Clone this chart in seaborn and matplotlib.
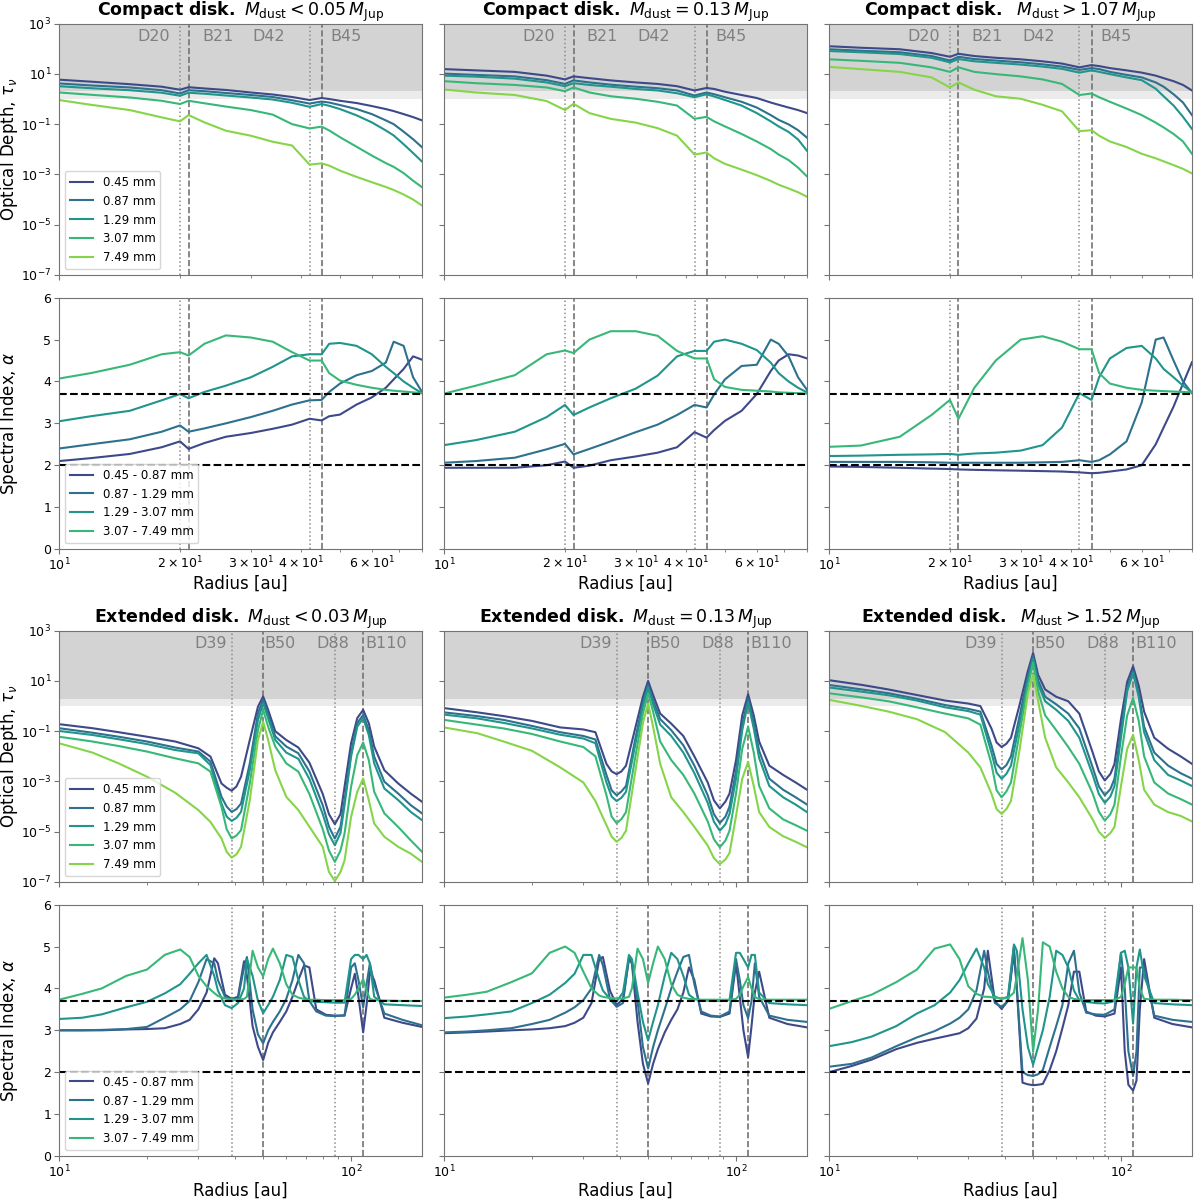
import numpy as np
import pandas as pd
import matplotlib
matplotlib.use("Agg")
import matplotlib.pyplot as plt
import seaborn as sns
from matplotlib.ticker import NullLocator

tau_bands = ["0.45 mm", "0.87 mm", "1.29 mm", "3.07 mm", "7.49 mm"]
alpha_bands = ["0.45 - 0.87 mm", "0.87 - 1.29 mm", "1.29 - 3.07 mm", "3.07 - 7.49 mm"]

# ring structure (au)
compact_gaps, compact_rings = [20, 42], [21, 45]
compact_names = ["D20", "B21", "D42", "B45"]
ext_gaps, ext_rings = [39, 88], [50, 110]
ext_names = ["D39", "B50", "D88", "B110"]

compact_titles = [r"$M_{\rm dust} < 0.05\,M_{\rm Jup}$",
                  r"$M_{\rm dust} = 0.13\,M_{\rm Jup}$",
                  r" $M_{\rm dust} > 1.07\,M_{\rm Jup}$"]
ext_titles = [r"$M_{\rm dust} < 0.03\,M_{\rm Jup}$",
              r"$M_{\rm dust} = 0.13\,M_{\rm Jup}$",
              r" $M_{\rm dust} > 1.52\,M_{\rm Jup}$"]

# ---------------- compact disk ----------------
compact_r = [10, 12, 15, 18, 20, 21, 23, 26, 30, 34, 38, 42, 45, 47, 50, 55, 60, 65, 68, 72, 76, 80]

# log10(tau) per band
log_tau_compact_lo = [
    [0.77, 0.69, 0.59, 0.49, 0.37, 0.47, 0.42, 0.36, 0.26, 0.18, 0.08, -0.04, 0.04, 0.0, -0.07, -0.16, -0.28, -0.40, -0.48, -0.60, -0.72, -0.85],
    [0.62, 0.54, 0.46, 0.35, 0.22, 0.35, 0.31, 0.24, 0.16, 0.08, -0.05, -0.18, -0.10, -0.14, -0.24, -0.40, -0.60, -0.85, -1.00, -1.30, -1.60, -1.92],
    [0.51, 0.43, 0.35, 0.25, 0.13, 0.25, 0.21, 0.14, 0.06, -0.02, -0.15, -0.31, -0.20, -0.27, -0.40, -0.65, -0.93, -1.25, -1.45, -1.80, -2.15, -2.49],
    [0.26, 0.17, 0.06, -0.07, -0.20, -0.07, -0.17, -0.30, -0.44, -0.62, -1.00, -1.17, -1.10, -1.25, -1.52, -1.90, -2.25, -2.55, -2.70, -2.95, -3.25, -3.51],
    [-0.04, -0.23, -0.44, -0.73, -0.89, -0.64, -0.93, -1.26, -1.46, -1.70, -1.85, -2.61, -2.56, -2.65, -2.85, -3.10, -3.31, -3.50, -3.62, -3.80, -4.00, -4.24],
]
log_tau_compact_mid = [
    [1.19, 1.14, 1.08, 0.93, 0.78, 0.90, 0.83, 0.74, 0.66, 0.60, 0.51, 0.34, 0.44, 0.40, 0.29, 0.16, 0.04, -0.14, -0.23, -0.34, -0.44, -0.56],
    [1.01, 0.96, 0.90, 0.75, 0.60, 0.74, 0.66, 0.57, 0.49, 0.43, 0.34, 0.14, 0.26, 0.19, 0.07, -0.11, -0.34, -0.64, -0.83, -1.01, -1.24, -1.54],
    [0.93, 0.89, 0.81, 0.66, 0.51, 0.63, 0.56, 0.49, 0.40, 0.34, 0.23, 0.07, 0.19, 0.10, -0.04, -0.26, -0.56, -0.89, -1.09, -1.31, -1.61, -2.06],
    [0.71, 0.63, 0.56, 0.46, 0.31, 0.46, 0.26, 0.11, 0.01, -0.11, -0.26, -0.79, -0.71, -0.89, -1.09, -1.39, -1.69, -1.99, -2.21, -2.43, -2.73, -3.08],
    [0.38, 0.26, 0.16, -0.08, -0.44, -0.19, -0.56, -0.79, -0.94, -1.16, -1.46, -2.21, -2.13, -2.36, -2.58, -2.81, -3.03, -3.26, -3.41, -3.56, -3.71, -3.89],
]
log_tau_compact_hi = [
    [2.10, 2.04, 1.98, 1.83, 1.68, 1.80, 1.71, 1.64, 1.58, 1.50, 1.41, 1.26, 1.35, 1.31, 1.23, 1.14, 1.05, 0.93, 0.83, 0.71, 0.56, 0.34],
    [1.98, 1.92, 1.86, 1.71, 1.53, 1.68, 1.59, 1.53, 1.46, 1.38, 1.29, 1.16, 1.23, 1.19, 1.08, 0.96, 0.86, 0.66, 0.49, 0.19, -0.14, -0.64],
    [1.91, 1.86, 1.79, 1.64, 1.46, 1.59, 1.50, 1.44, 1.37, 1.29, 1.20, 1.05, 1.14, 1.08, 0.99, 0.86, 0.75, 0.41, 0.11, -0.26, -0.71, -1.19],
    [1.58, 1.52, 1.44, 1.26, 1.08, 1.26, 1.08, 0.99, 0.90, 0.78, 0.60, 0.16, 0.22, 0.07, -0.11, -0.38, -0.64, -0.94, -1.13, -1.39, -1.69, -2.18],
    [1.28, 1.19, 1.08, 0.86, 0.46, 0.66, 0.37, 0.11, 0.01, -0.23, -0.49, -1.28, -1.24, -1.46, -1.69, -1.91, -2.18, -2.36, -2.48, -2.63, -2.78, -2.96],
]

alpha_compact_lo = [
    [2.10, 2.17, 2.27, 2.43, 2.57, 2.39, 2.53, 2.68, 2.77, 2.87, 2.97, 3.11, 3.07, 3.17, 3.21, 3.45, 3.62, 3.85, 4.05, 4.30, 4.60, 4.52],
    [2.40, 2.50, 2.62, 2.80, 2.95, 2.80, 2.88, 3.00, 3.15, 3.30, 3.45, 3.55, 3.56, 3.75, 3.95, 4.15, 4.25, 4.45, 4.95, 4.85, 4.10, 3.75],
    [3.05, 3.17, 3.30, 3.55, 3.70, 3.60, 3.75, 3.90, 4.10, 4.35, 4.60, 4.65, 4.65, 4.90, 4.92, 4.85, 4.65, 4.35, 4.20, 4.00, 3.85, 3.72],
    [4.07, 4.20, 4.40, 4.65, 4.70, 4.62, 4.90, 5.10, 5.05, 4.95, 4.70, 4.50, 4.50, 4.20, 4.02, 3.92, 3.85, 3.80, 3.78, 3.76, 3.74, 3.72],
]
alpha_compact_mid = [
    [1.94, 1.94, 1.94, 2.00, 2.09, 1.94, 1.99, 2.12, 2.21, 2.30, 2.43, 2.79, 2.66, 2.84, 3.06, 3.30, 3.70, 4.25, 4.50, 4.65, 4.62, 4.55],
    [2.06, 2.10, 2.18, 2.38, 2.51, 2.26, 2.39, 2.57, 2.79, 2.97, 3.20, 3.44, 3.38, 3.69, 4.05, 4.37, 4.40, 5.00, 4.90, 4.60, 4.10, 3.80],
    [2.48, 2.60, 2.80, 3.15, 3.44, 3.20, 3.38, 3.60, 3.83, 4.14, 4.60, 4.73, 4.73, 4.95, 5.00, 4.90, 4.75, 4.45, 4.20, 4.00, 3.85, 3.74],
    [3.71, 3.90, 4.15, 4.65, 4.74, 4.68, 5.00, 5.20, 5.20, 5.09, 4.73, 4.55, 4.55, 4.05, 3.87, 3.80, 3.78, 3.76, 3.74, 3.73, 3.72, 3.71],
]
alpha_compact_hi = [
    [1.97, 1.96, 1.94, 1.92, 1.91, 1.90, 1.89, 1.88, 1.87, 1.86, 1.85, 1.83, 1.81, 1.82, 1.85, 1.90, 2.00, 2.50, 2.90, 3.40, 3.95, 4.46],
    [2.08, 2.08, 2.08, 2.07, 2.06, 2.06, 2.06, 2.06, 2.06, 2.07, 2.08, 2.12, 2.08, 2.12, 2.26, 2.57, 3.50, 5.00, 5.05, 4.50, 4.00, 3.72],
    [2.22, 2.23, 2.25, 2.26, 2.27, 2.25, 2.28, 2.30, 2.35, 2.48, 2.90, 3.72, 3.56, 4.10, 4.55, 4.80, 4.85, 4.55, 4.30, 4.10, 3.90, 3.74],
    [2.44, 2.47, 2.68, 3.20, 3.56, 3.11, 3.85, 4.50, 5.00, 5.08, 4.95, 4.77, 4.77, 4.20, 3.95, 3.85, 3.80, 3.78, 3.77, 3.76, 3.75, 3.74],
]

# ---------------- extended disk ----------------
ext_r_tau = [10, 13, 16, 20, 25, 30, 33, 36, 37.5, 39, 40.5, 42, 45, 48, 50, 52, 55, 60, 66, 72,
             80, 84, 88, 92, 95, 100, 105, 110, 115, 120, 130, 145, 160, 175]

log_tau_ext_lo = [
    [-0.72, -0.88, -1.04, -1.22, -1.41, -1.68, -2.01, -3.08, -3.25, -3.37, -3.2, -2.81, -1.35, -0.02, 0.38, -0.15, -1.0, -1.35, -1.65, -2.25, -3.5, -4.3, -4.70, -4.3, -3.21, -1.48, -0.48, -0.15, -0.68, -1.61, -2.55, -3.08, -3.48, -3.81],
    [-0.88, -1.06, -1.22, -1.41, -1.65, -1.81, -2.21, -3.61, -4.0, -4.21, -4.1, -3.88, -2.28, -0.28, 0.25, -0.35, -1.2, -1.61, -1.88, -2.6, -3.95, -4.8, -5.27, -4.8, -3.74, -1.88, -0.68, -0.35, -0.95, -2.01, -3.01, -3.48, -3.94, -4.27],
    [-0.99, -1.15, -1.32, -1.51, -1.75, -1.88, -2.35, -3.88, -4.4, -4.57, -4.45, -4.21, -2.55, -0.55, 0.11, -0.48, -1.35, -1.85, -2.1, -2.9, -4.3, -5.1, -5.54, -5.05, -3.94, -2.01, -0.82, -0.48, -1.15, -2.28, -3.28, -3.74, -4.21, -4.54],
    [-1.22, -1.41, -1.59, -1.81, -2.08, -2.28, -2.61, -4.01, -4.9, -5.27, -5.15, -4.94, -3.08, -0.95, -0.15, -0.82, -1.61, -2.28, -2.61, -3.5, -4.9, -5.75, -6.20, -5.75, -5.07, -3.21, -1.95, -1.45, -2.15, -3.41, -4.27, -4.81, -5.34, -5.80],
    [-1.48, -1.85, -2.28, -2.81, -3.45, -4.14, -4.61, -5.27, -5.8, -6.03, -5.9, -5.60, -3.74, -1.35, -0.62, -1.35, -2.55, -3.61, -4.14, -4.8, -5.6, -6.6, -6.96, -6.6, -6.14, -4.41, -3.41, -2.88, -3.74, -4.67, -5.20, -5.60, -5.87, -6.20],
]
log_tau_ext_mid = [
    [-0.08, -0.25, -0.40, -0.59, -0.85, -0.93, -1.04, -2.30, -2.6, -2.71, -2.6, -2.37, -0.96, 0.37, 1.0, 0.44, -0.30, -0.7, -1.19, -2.0, -3.04, -3.75, -4.07, -3.8, -3.48, -2.15, -0.37, 0.47, -0.37, -1.41, -2.37, -2.74, -3.04, -3.33],
    [-0.25, -0.40, -0.55, -0.79, -1.04, -1.19, -1.33, -2.74, -3.35, -3.55, -3.4, -3.18, -1.41, 0.14, 0.84, 0.22, -0.52, -0.96, -1.56, -2.37, -3.55, -4.3, -4.66, -4.4, -4.0, -2.59, -0.74, 0.29, -0.67, -1.78, -2.89, -3.33, -3.63, -3.92],
    [-0.34, -0.49, -0.67, -0.89, -1.14, -1.29, -1.48, -3.04, -3.6, -3.78, -3.65, -3.41, -1.63, 0.0, 0.74, 0.07, -0.74, -1.19, -1.85, -2.67, -3.85, -4.6, -4.96, -4.7, -4.29, -2.89, -0.96, 0.14, -0.89, -2.07, -3.18, -3.63, -3.92, -4.22],
    [-0.55, -0.74, -0.89, -1.11, -1.41, -1.63, -2.0, -3.55, -4.4, -4.66, -4.5, -4.22, -2.15, -0.30, 0.51, -0.22, -1.41, -2.15, -2.74, -3.48, -4.59, -5.3, -5.62, -5.35, -4.96, -3.48, -1.70, -0.82, -1.85, -3.18, -4.07, -4.51, -4.74, -4.96],
    [-0.85, -1.08, -1.41, -1.78, -2.44, -3.04, -3.78, -4.74, -5.2, -5.40, -5.25, -4.96, -2.74, -0.67, 0.10, -0.82, -2.30, -3.63, -4.22, -4.81, -5.55, -6.05, -6.29, -6.1, -5.85, -4.37, -2.89, -2.22, -3.18, -4.22, -4.81, -5.18, -5.40, -5.62],
]
log_tau_ext_hi = [
    [1.03, 0.84, 0.66, 0.44, 0.22, 0.10, 0.0, -0.89, -1.45, -1.63, -1.5, -1.26, 0.07, 1.40, 2.11, 1.25, 0.66, 0.37, 0.19, -0.30, -1.85, -2.6, -2.96, -2.7, -2.30, -0.52, 0.96, 1.58, 0.81, -0.22, -1.26, -1.70, -2.0, -2.30],
    [0.84, 0.66, 0.51, 0.29, 0.04, -0.11, -0.22, -1.56, -2.3, -2.52, -2.35, -2.0, -0.37, 1.18, 1.99, 1.03, 0.37, 0.07, -0.30, -0.89, -2.44, -3.2, -3.55, -3.3, -2.89, -0.96, 0.74, 1.40, 0.51, -0.82, -1.85, -2.37, -2.67, -2.89],
    [0.74, 0.57, 0.43, 0.22, -0.05, -0.20, -0.34, -1.85, -2.65, -2.89, -2.7, -2.37, -0.67, 1.03, 1.88, 0.88, 0.19, -0.15, -0.59, -1.26, -2.74, -3.5, -3.85, -3.6, -3.18, -1.26, 0.59, 1.33, 0.37, -1.04, -2.15, -2.74, -2.96, -3.18],
    [0.51, 0.34, 0.19, -0.05, -0.30, -0.49, -0.74, -2.30, -3.35, -3.63, -3.4, -3.04, -1.04, 0.81, 1.73, 0.59, -0.37, -0.96, -1.63, -2.30, -3.48, -4.2, -4.56, -4.3, -3.92, -2.0, -0.37, 0.32, -0.59, -2.0, -3.04, -3.48, -3.70, -3.92],
    [0.25, 0.0, -0.22, -0.52, -1.04, -1.85, -2.44, -3.48, -4.1, -4.29, -4.1, -3.78, -1.70, 0.51, 1.25, 0.22, -1.26, -2.44, -3.04, -3.63, -4.51, -5.0, -5.25, -5.05, -4.81, -3.18, -1.70, -1.14, -2.15, -3.33, -3.92, -4.22, -4.37, -4.59],
]

ext_r_alpha = [10, 12, 14, 17, 20, 23, 26, 28, 30, 32, 34, 35, 37, 39, 41, 43, 44, 46, 48, 50, 52,
               54, 57, 60, 63, 66, 69, 72, 76, 82, 88, 95, 100, 103, 106, 110, 113, 116, 120, 130, 150, 175]

alpha_ext_lo = [
    [3.0, 3.0, 3.0, 3.02, 3.03, 3.05, 3.15, 3.25, 3.5, 3.9, 4.72, 4.6, 3.85, 3.75, 3.8, 4.65, 4.3, 3.1, 2.6, 2.29, 2.7, 2.95, 3.2, 3.45, 3.8, 4.2, 4.55, 4.5, 3.5, 3.37, 3.35, 3.35, 4.0, 4.35, 3.8, 2.95, 3.6, 4.4, 4.2, 3.3, 3.18, 3.08],
    [3.0, 3.0, 3.01, 3.03, 3.08, 3.3, 3.5, 3.7, 4.15, 4.7, 4.6, 4.2, 3.8, 3.7, 3.75, 4.5, 4.75, 3.5, 2.9, 2.69, 3.0, 3.2, 3.45, 3.75, 4.2, 4.8, 4.6, 3.7, 3.45, 3.35, 3.34, 3.36, 4.5, 4.6, 4.2, 3.55, 4.1, 4.6, 4.1, 3.4, 3.25, 3.12],
    [3.27, 3.3, 3.38, 3.55, 3.68, 3.88, 4.1, 4.35, 4.6, 4.8, 4.3, 3.95, 3.6, 3.53, 3.65, 4.0, 4.7, 4.3, 3.7, 3.41, 3.6, 3.8, 4.2, 4.8, 4.75, 4.2, 3.8, 3.7, 3.68, 3.67, 3.66, 3.66, 4.7, 4.8, 4.8, 4.7, 4.8, 4.6, 3.8, 3.62, 3.6, 3.58],
    [3.73, 3.87, 4.0, 4.3, 4.45, 4.8, 4.93, 4.75, 4.3, 4.05, 3.89, 3.82, 3.76, 3.74, 3.73, 3.75, 3.8, 4.9, 4.5, 4.29, 4.7, 4.95, 4.6, 4.1, 3.85, 3.78, 3.75, 3.73, 3.73, 3.72, 3.72, 3.72, 3.75, 3.85, 4.0, 4.22, 3.95, 3.75, 3.72, 3.71, 3.7, 3.7],
]
alpha_ext_mid = [
    [2.93, 2.95, 2.97, 3.0, 3.02, 3.05, 3.1, 3.18, 3.3, 3.65, 4.7, 4.75, 3.95, 3.6, 3.75, 4.7, 4.6, 3.2, 2.2, 1.73, 2.2, 2.55, 2.95, 3.25, 3.5, 3.9, 4.5, 4.2, 3.4, 3.33, 3.32, 3.4, 4.6, 3.8, 3.0, 2.36, 3.1, 3.9, 4.4, 3.3, 3.15, 3.07],
    [2.95, 2.97, 3.0, 3.05, 3.15, 3.25, 3.42, 3.55, 3.72, 4.0, 4.8, 4.55, 3.75, 3.56, 3.65, 4.75, 4.6, 3.7, 2.6, 2.09, 2.6, 3.0, 3.5, 4.0, 4.4, 4.75, 4.8, 4.1, 3.45, 3.35, 3.33, 3.45, 4.7, 4.2, 3.6, 3.29, 3.7, 4.6, 3.8, 3.35, 3.25, 3.2],
    [3.29, 3.33, 3.38, 3.45, 3.65, 3.85, 4.13, 4.35, 4.8, 4.8, 4.2, 3.95, 3.75, 3.69, 3.9, 4.8, 4.7, 3.9, 3.2, 2.76, 3.2, 3.6, 4.3, 4.85, 4.7, 4.3, 3.85, 3.75, 3.72, 3.7, 3.7, 3.72, 4.85, 4.85, 4.7, 4.5, 4.8, 4.8, 3.9, 3.65, 3.62, 3.6],
    [3.78, 3.85, 3.92, 4.15, 4.36, 4.85, 5.0, 4.85, 4.4, 4.0, 3.83, 3.8, 3.77, 3.76, 3.76, 3.8, 4.0, 4.95, 4.7, 4.13, 4.6, 5.0, 4.7, 4.1, 3.85, 3.78, 3.75, 3.74, 3.73, 3.73, 3.73, 3.73, 3.75, 3.85, 4.05, 4.27, 4.0, 3.8, 3.74, 3.73, 3.73, 3.73],
]
alpha_ext_hi = [
    [2.0, 2.15, 2.3, 2.55, 2.7, 2.8, 2.88, 2.93, 3.05, 3.28, 4.0, 4.9, 3.7, 3.51, 3.7, 4.85, 4.0, 1.75, 1.71, 1.69, 1.7, 1.72, 2.05, 2.5, 3.05, 3.6, 4.4, 4.4, 3.45, 3.35, 3.33, 3.4, 4.5, 2.5, 1.7, 1.56, 1.8, 3.5, 4.7, 3.3, 3.15, 3.07],
    [2.13, 2.2, 2.35, 2.62, 2.83, 2.98, 3.16, 3.3, 3.5, 3.95, 4.9, 4.4, 3.65, 3.56, 3.7, 5.0, 4.0, 2.0, 1.93, 1.91, 1.95, 2.05, 2.6, 3.1, 3.6, 4.6, 4.9, 3.9, 3.42, 3.38, 3.37, 3.5, 4.85, 4.0, 2.5, 1.91, 2.5, 4.5, 4.5, 3.35, 3.25, 3.2],
    [2.62, 2.72, 2.85, 3.1, 3.4, 3.6, 3.9, 4.2, 4.6, 4.95, 4.5, 4.1, 3.8, 3.75, 3.8, 5.05, 4.9, 3.5, 2.6, 2.18, 2.6, 3.0, 3.8, 4.9, 4.8, 4.5, 3.95, 3.72, 3.68, 3.65, 3.64, 3.7, 4.85, 4.9, 4.5, 3.16, 4.5, 4.93, 4.3, 3.65, 3.62, 3.6],
    [3.51, 3.7, 3.85, 4.15, 4.45, 4.95, 5.05, 4.7, 4.05, 3.87, 3.8, 3.8, 3.78, 3.76, 3.77, 3.9, 4.3, 5.2, 4.2, 2.49, 3.5, 5.1, 5.0, 4.4, 4.0, 3.8, 3.75, 3.73, 3.72, 3.72, 3.72, 3.72, 3.8, 4.1, 4.5, 4.5, 4.5, 4.0, 3.75, 3.73, 3.73, 3.72],
]

# label x-positions for the ring names (au)
compact_label_x = [17.2, 24.8, 33.2, 51.8]
ext_label_x = [33.0, 57.3, 86.8, 132.0]

# ---------------- drawing ----------------
plt.rcParams.update({
    "axes.edgecolor": "0.45",
    "xtick.color": "0.45",
    "ytick.color": "0.45",
    "xtick.labelcolor": "black",
    "ytick.labelcolor": "black",
})

cmap = sns.color_palette("viridis", as_cmap=True)
colors = [cmap(v) for v in np.linspace(0.22, 0.82, 5)]


def long_frame(r, series, bands, log=False):
    rows = []
    for band, vals in zip(bands, series):
        assert len(vals) == len(r), band
        for ri, v in zip(r, vals):
            rows.append((ri, 10.0 ** v if log else v, band))
    return pd.DataFrame(rows, columns=["r", "y", "band"])


def add_rings(ax, gaps, rings):
    for g in gaps:
        ax.axvline(g, color="0.55", ls=":", lw=1.1, zorder=1)
    for b in rings:
        ax.axvline(b, color="0.45", ls="--", lw=1.2, zorder=1)


fig = plt.figure(figsize=(12, 11.99), dpi=100)
col_left = [0.0492, 0.370, 0.6908]
col_w = 0.3025
row_bottom = [0.7707, 0.5421, 0.2644, 0.0359]
row_h = 0.2096

panels = [
    ("Compact", compact_r, compact_r, [log_tau_compact_lo, log_tau_compact_mid, log_tau_compact_hi],
     [alpha_compact_lo, alpha_compact_mid, alpha_compact_hi], compact_gaps, compact_rings,
     compact_names, compact_label_x, compact_titles, (10, 80)),
    ("Extended", ext_r_tau, ext_r_alpha, [log_tau_ext_lo, log_tau_ext_mid, log_tau_ext_hi],
     [alpha_ext_lo, alpha_ext_mid, alpha_ext_hi], ext_gaps, ext_rings,
     ext_names, ext_label_x, ext_titles, (10, 175)),
]

for p, (kind, r_tau, r_alpha, taus, alphas, gaps, rings, names, lab_x, titles, xlim) in enumerate(panels):
    for c in range(3):
        ax_t = fig.add_axes([col_left[c], row_bottom[2 * p], col_w, row_h])
        ax_a = fig.add_axes([col_left[c], row_bottom[2 * p + 1], col_w, row_h])

        # optical depth
        ax_t.set_xscale("log")
        ax_t.set_yscale("log")
        ax_t.axhspan(1, 1e3, color="#ebebeb", lw=0, zorder=0)
        ax_t.axhspan(2, 1e3, color="#d3d3d3", lw=0, zorder=0)
        add_rings(ax_t, gaps, rings)
        df = long_frame(r_tau, taus[c], tau_bands, log=True)
        sns.lineplot(data=df, x="r", y="y", hue="band", hue_order=tau_bands,
                     palette=colors, estimator=None, sort=False, lw=1.5,
                     ax=ax_t, legend=(c == 0))
        for name, x in zip(names, lab_x):
            ax_t.text(x, 10 ** 2.5, name, color="0.5", fontsize=11.5,
                      ha="center", va="center")
        ax_t.set_xlim(*xlim)
        ax_t.set_ylim(1e-7, 1e3)
        ax_t.set_yticks([1e3, 1e1, 1e-1, 1e-3, 1e-5, 1e-7])
        ax_t.yaxis.set_minor_locator(NullLocator())
        ax_t.set_xlabel("")
        ax_t.tick_params(axis="x", which="both", labelbottom=False)
        ax_t.tick_params(labelsize=9, pad=2)
        ax_t.set_title(r"$\bf{" + kind + r"\ disk.}$ " + titles[c], fontsize=12.5, pad=4)

        # spectral index
        ax_a.set_xscale("log")
        add_rings(ax_a, gaps, rings)
        df = long_frame(r_alpha, alphas[c], alpha_bands)
        sns.lineplot(data=df, x="r", y="y", hue="band", hue_order=alpha_bands,
                     palette=colors[:4], estimator=None, sort=False, lw=1.5,
                     ax=ax_a, legend=(c == 0))
        ax_a.axhline(3.7, color="k", ls="--", lw=1.5)
        ax_a.axhline(2.0, color="k", ls="--", lw=1.5)
        ax_a.set_xlim(*xlim)
        ax_a.set_ylim(0, 6)
        ax_a.set_yticks(range(7))
        ax_a.set_xlabel("Radius [au]", fontsize=12, labelpad=1)
        ax_a.tick_params(which="both", labelsize=9, pad=2)

        if c == 0:
            ax_t.set_ylabel(r"Optical Depth, $\tau_\nu$", fontsize=12)
            ax_a.set_ylabel(r"Spectral Index, $\alpha$", fontsize=12)
            ax_t.yaxis.set_label_coords(-0.108, 0.5)
            ax_a.yaxis.set_label_coords(-0.108, 0.5)
            sns.move_legend(ax_t, "lower left", title=None, fontsize=8.5, frameon=True)
            sns.move_legend(ax_a, "lower left", title=None, fontsize=8.5, frameon=True)
        else:
            ax_t.set_ylabel("")
            ax_a.set_ylabel("")
            ax_t.tick_params(axis="y", labelleft=False)
            ax_a.tick_params(axis="y", labelleft=False)

fig.savefig("out.png", dpi=100)
